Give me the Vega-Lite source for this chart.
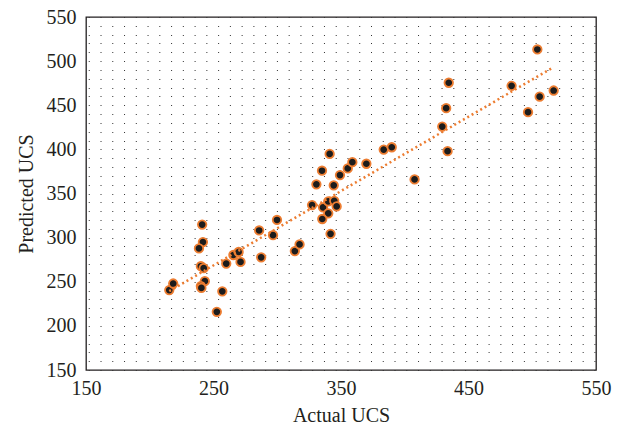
{
  "$schema": "https://vega.github.io/schema/vega-lite/v6.json",
  "width": 510,
  "height": 353,
  "autosize": {"type": "none"},
  "padding": {"left": 86, "top": 17, "right": 25, "bottom": 60},
  "background": "white",
  "config": {
    "view": {"stroke": "#231f20", "strokeWidth": 1.3},
    "font": "Liberation Serif"
  },
  "data": {
    "values": [
      {"actual": 215.3, "pred": 240.6},
      {"actual": 218.4, "pred": 248.0},
      {"actual": 241.1, "pred": 314.8},
      {"actual": 241.7, "pred": 295.0},
      {"actual": 238.6, "pred": 287.8},
      {"actual": 240.1, "pred": 267.6},
      {"actual": 242.3, "pred": 265.4},
      {"actual": 243.2, "pred": 250.7},
      {"actual": 240.1, "pred": 245.1},
      {"actual": 240.5, "pred": 243.0},
      {"actual": 252.6, "pred": 215.9},
      {"actual": 256.9, "pred": 239.1},
      {"actual": 260.0, "pred": 270.6},
      {"actual": 265.6, "pred": 280.3},
      {"actual": 269.7, "pred": 283.7},
      {"actual": 271.2, "pred": 272.5},
      {"actual": 285.8, "pred": 308.1},
      {"actual": 287.4, "pred": 277.7},
      {"actual": 296.7, "pred": 302.8},
      {"actual": 299.8, "pred": 320.0},
      {"actual": 313.8, "pred": 284.8},
      {"actual": 317.5, "pred": 292.3},
      {"actual": 327.3, "pred": 336.9},
      {"actual": 335.9, "pred": 334.3},
      {"actual": 340.0, "pred": 341.0},
      {"actual": 344.7, "pred": 341.7},
      {"actual": 346.6, "pred": 335.4},
      {"actual": 340.0, "pred": 327.5},
      {"actual": 335.3, "pred": 321.1},
      {"actual": 341.8, "pred": 304.3},
      {"actual": 330.7, "pred": 360.4},
      {"actual": 335.1, "pred": 375.8},
      {"actual": 341.1, "pred": 394.9},
      {"actual": 344.3, "pred": 359.3},
      {"actual": 349.2, "pred": 370.9},
      {"actual": 355.3, "pred": 378.4},
      {"actual": 358.9, "pred": 385.5},
      {"actual": 369.9, "pred": 383.7},
      {"actual": 383.5, "pred": 399.8},
      {"actual": 389.8, "pred": 402.4},
      {"actual": 407.7, "pred": 366.0},
      {"actual": 429.4, "pred": 425.8},
      {"actual": 432.5, "pred": 446.7},
      {"actual": 433.6, "pred": 398.0},
      {"actual": 434.5, "pred": 475.5},
      {"actual": 483.8, "pred": 472.0},
      {"actual": 496.7, "pred": 442.2},
      {"actual": 504.0, "pred": 513.2},
      {"actual": 505.8, "pred": 459.7},
      {"actual": 516.8, "pred": 466.7}
    ]
  },
  "encoding": {
    "x": {
      "field": "actual",
      "type": "quantitative",
      "scale": {"domain": [150, 550], "nice": false, "zero": false},
      "axis": {
        "title": "Actual UCS",
        "values": [150, 250, 350, 450, 550],
        "grid": false,
        "ticks": false,
        "tickSize": 0,
        "domain": false,
        "labelFontSize": 20,
        "titleFontSize": 20,
        "titleFontWeight": "normal",
        "labelColor": "#231f20",
        "titleColor": "#231f20",
        "labelFlush": false,
        "labelOverlap": false,
        "labelPadding": 8,
        "titlePadding": 7
      }
    },
    "y": {
      "field": "pred",
      "type": "quantitative",
      "scale": {"domain": [150, 550], "nice": false, "zero": false},
      "axis": {
        "title": "Predicted UCS",
        "tickCount": 40,
        "labelExpr": "datum.value % 50 == 0 ? datum.label : ''",
        "grid": true,
        "gridDash": [1, 10.76],
        "gridDashOffset": 9.5,
        "gridColor": "#333333",
        "gridWidth": 1,
        "ticks": false,
        "tickSize": 0,
        "domain": false,
        "labelFontSize": 20,
        "titleFontSize": 20,
        "titleFontWeight": "normal",
        "labelColor": "#231f20",
        "titleColor": "#231f20",
        "labelOverlap": false,
        "labelFlush": false,
        "labelPadding": 10,
        "titlePadding": 10
      }
    }
  },
  "layer": [
    {
      "mark": {"type": "point", "shape": "circle", "filled": true, "fill": "#1c1c1c", "stroke": "#ED7D31", "strokeWidth": 1.8, "size": 72, "opacity": 1}
    },
    {
      "transform": [{"regression": "pred", "on": "actual"}],
      "mark": {"type": "line", "color": "#ED7D31", "strokeWidth": 2.5, "strokeDash": [2, 3]}
    }
  ]
}
